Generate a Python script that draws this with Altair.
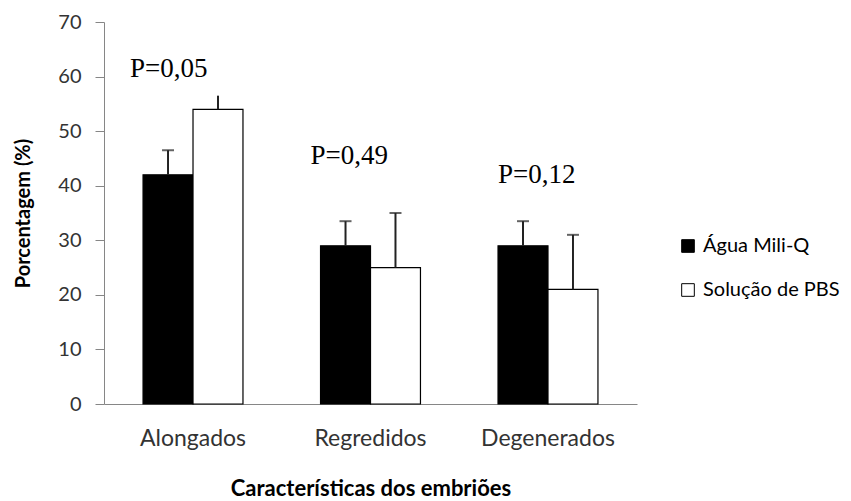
import altair as alt
import pandas as pd

# Categories and series
categorias = ["Alongados", "Regredidos", "Degenerados"]
series = ["Água Mili-Q", "Solução de PBS"]

# Mean percentage per group
agua = [42, 29, 29]
pbs = [54, 25, 21]

# Upper end of each error bar
agua_sup = [46.5, 33.5, 33.5]
pbs_sup = [56.5, 35, 31]

# Whether the error bar ends in a cap
agua_cap = [True, True, True]
pbs_cap = [False, True, True]

# P-value annotations and their height on the y scale
p_textos = ["P=0,05", "P=0,49", "P=0,12"]
p_alturas = [60, 44, 40.5]
p_dx = [-63, -60, -50]

linhas = []
for i, c in enumerate(categorias):
    linhas.append({"cat": c, "serie": series[0], "valor": agua[i], "sup": agua_sup[i], "cap": agua_cap[i]})
    linhas.append({"cat": c, "serie": series[1], "valor": pbs[i], "sup": pbs_sup[i], "cap": pbs_cap[i]})
df = pd.DataFrame(linhas)

df_p = pd.DataFrame({"cat": categorias, "texto": p_textos, "y": p_alturas})

x_enc = alt.X(
    "cat:N",
    sort=categorias,
    scale=alt.Scale(paddingInner=0.437, paddingOuter=0.22),
    axis=alt.Axis(
        title="Características dos embriões",
        labelAngle=0,
        ticks=False,
        labelPadding=23,
        titlePadding=28,
        labelFontSize=23,
        titleFontSize=22,
    ),
)
xoff = alt.XOffset("serie:N", sort=series, scale=alt.Scale(paddingInner=0, paddingOuter=0))
y_scale = alt.Scale(domain=[0, 70], nice=False)

barras = alt.Chart(df).mark_bar(stroke="black", strokeWidth=1.2).encode(
    x=x_enc,
    xOffset=xoff,
    y=alt.Y(
        "valor:Q",
        scale=y_scale,
        axis=alt.Axis(
            title="Porcentagem (%)",
            values=[0, 10, 20, 30, 40, 50, 60, 70],
            tickSize=9,
            labelPadding=14,
            titlePadding=24,
            labelFontSize=20,
            titleFontSize=20,
            grid=False,
        ),
    ),
    fill=alt.Fill(
        "serie:N",
        sort=series,
        scale=alt.Scale(domain=series, range=["black", "white"]),
        legend=alt.Legend(
            title=None,
            orient="none",
            legendX=574,
            legendY=214,
            symbolType="square",
            symbolSize=160,
            symbolStrokeColor="black",
            symbolStrokeWidth=1,
            labelOffset=5,
            rowPadding=24,
        ),
    ),
)

erros = alt.Chart(df).mark_rule(color="#222222", strokeWidth=2).encode(
    x=alt.X("cat:N", sort=categorias),
    xOffset=alt.XOffset("serie:N", sort=series),
    y=alt.Y("valor:Q", scale=y_scale),
    y2="sup:Q",
)

caps = alt.Chart(df).transform_filter("datum.cap").mark_tick(
    color="#222222", thickness=2, size=12
).encode(
    x=alt.X("cat:N", sort=categorias),
    xOffset=alt.XOffset("serie:N", sort=series),
    y=alt.Y("sup:Q", scale=y_scale),
)

textos = []
for i in range(len(categorias)):
    textos.append(
        alt.Chart(df_p.iloc[[i]]).mark_text(
            font="Liberation Serif", fontSize=27, align="left", baseline="alphabetic",
            color="black", dx=p_dx[i],
        ).encode(
            x=alt.X("cat:N", sort=categorias),
            y=alt.Y("y:Q", scale=y_scale),
            text="texto:N",
        )
    )

chart = alt.layer(barras, erros, caps, *textos).properties(
    width=533,
    height=382,
    autosize=alt.AutoSizeParams(type="none"),
    padding={"left": 104, "top": 22, "right": 214, "bottom": 97},
).configure_view(stroke=None).configure_axis(
    labelFont="Lato",
    labelColor="#333333",
    titleFont="Lato",
    titleFontWeight="bold",
    titleColor="black",
    domainColor="#868686",
    tickColor="#868686",
).configure_legend(
    labelFont="Lato",
    labelFontSize=20,
    labelColor="black",
)

chart.save("out.html", embed_options={"renderer": "svg", "actions": False})
